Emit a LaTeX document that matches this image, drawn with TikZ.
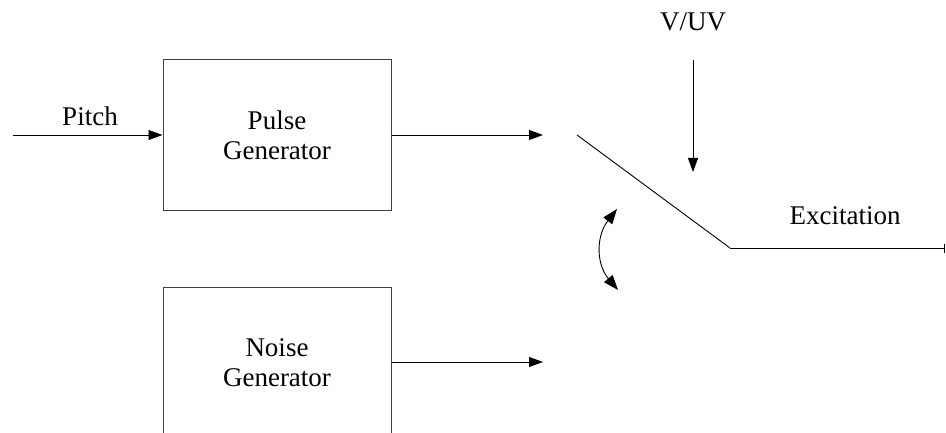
\documentclass[tikz,border=0pt]{standalone}
\usepackage{fontspec}
\setmainfont{Liberation Serif}
\usetikzlibrary{arrows.meta}
\begin{document}
\begin{tikzpicture}[x=1pt,y=-1pt,
  blk/.style={draw=black!75, line width=1pt, minimum width=228pt, minimum height=151pt, align=center, inner sep=0pt},
  arr/.style={line width=0.9pt, -{Triangle[length=14pt,width=10pt]}},
  lbl/.style={inner sep=0pt},
  every node/.style={font=\fontsize{27}{30}\selectfont}]
\useasboundingbox (0,0) rectangle (946,433);
\node[blk] (pulse) at (277,135) {Pulse\\Generator};
\node[blk, anchor=north] (noise) at (277,287) {Noise\\Generator};
\coordinate (pin) at (13,135);
\draw[arr] (pin) -- (pulse.west);
\node[lbl] (pitch) at (90,116) {Pitch};
\coordinate (p1) at (543,135);
\draw[arr] (pulse.east) -- (p1);
\coordinate (n1) at (543,362);
\draw[arr] (noise.east |- n1) -- (n1);
\coordinate (s0) at (577,135);
\coordinate (s1) at (730,248);
\coordinate (s2) at (945,248);
\draw[line width=0.9pt] (s0) -- (s1);
\draw[line width=0.9pt, -{Bar[width=9pt,line width=1.5pt]}] (s1) -- (s2);
\node[lbl] (exc) at (845,216) {Excitation};
\node[lbl] (vuv) at (693,22) {V/UV};
\coordinate (v0) at (693,60);
\coordinate (v1) at (693,172);
\draw[arr] (v0) -- (v1);
\coordinate (c0) at (617,209);
\coordinate (c1) at (618,290);
\draw[line width=0.9pt, {Triangle[length=15pt,width=11pt]}-{Triangle[length=15pt,width=11pt]}] (c0) .. controls (596,236) and (596,264) .. (c1);
\end{tikzpicture}
\end{document}
